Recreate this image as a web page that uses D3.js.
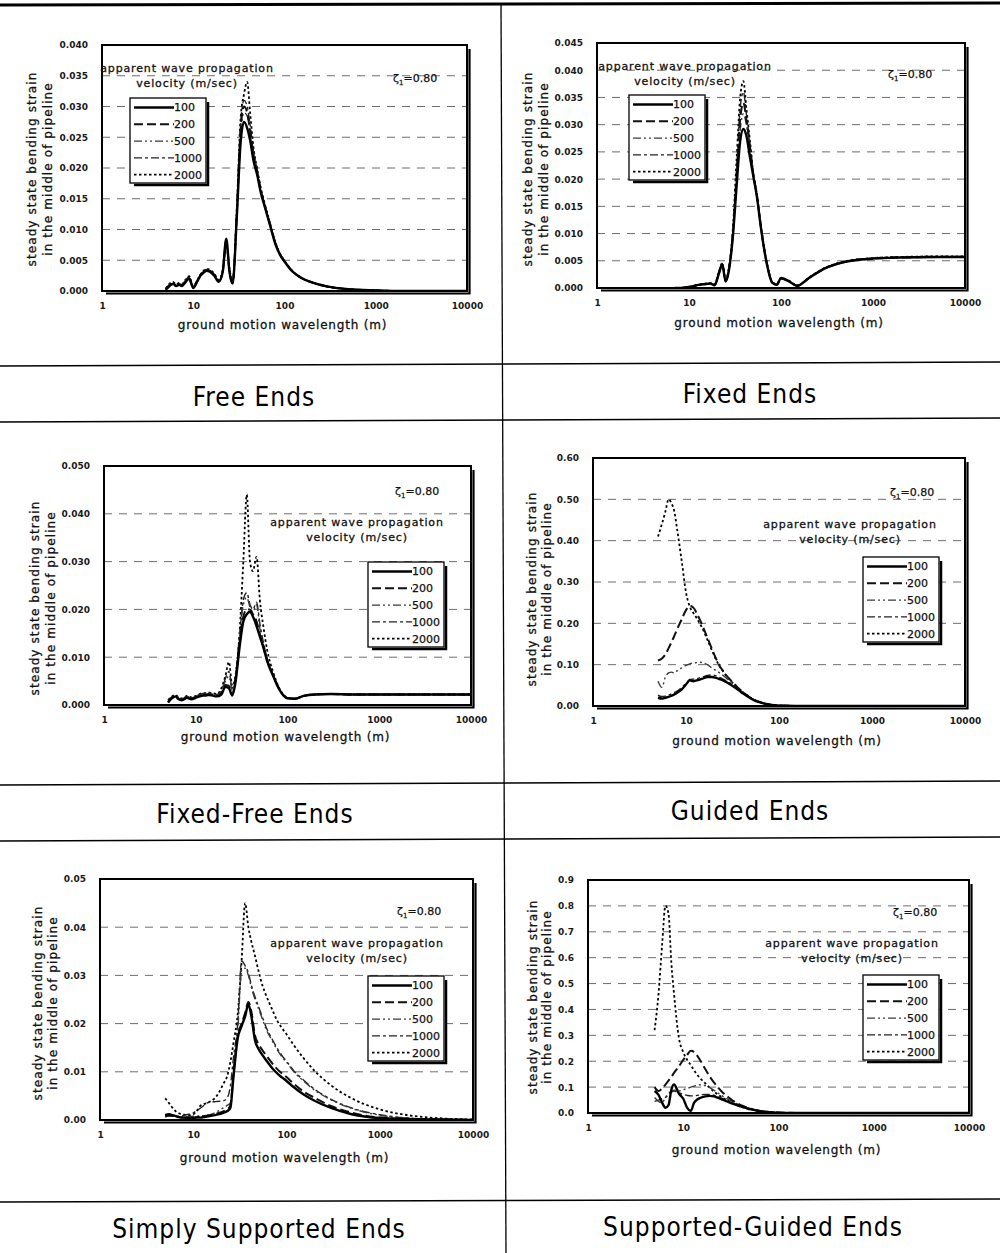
<!DOCTYPE html>
<html>
<head>
<meta charset="utf-8">
<script src="https://cdn.jsdelivr.net/npm/d3@7"></script>
<style>
  body { margin: 0; background: #fff; }
  svg { display: block; }
</style>
</head>
<body>
<svg id="fig" width="1000" height="1253"></svg>
<script>
// ---------- data ----------
// ground motion wavelengths (m) shared by every curve
const wavelengths = [5, 5.5, 6, 6.5, 7, 7.5, 8, 9, 10, 11, 12, 13, 14, 15, 17, 19, 21, 23, 25, 27,
  30, 33, 36, 39, 42, 46, 50, 55, 60, 70, 80, 90, 100, 120, 150, 200, 300, 500, 1000, 2000, 5000, 10000];

// apparent wave propagation velocities (m/sec)
const velocities = ["100", "200", "500", "1000", "2000"];
const xTickValues = [1, 10, 100, 1000, 10000];
const dampingLabel = "=0.80";

// steady state bending strain, free ends
const free100 = [0.0002, 0.0008, 0.0012, 0.0008, 0.0010, 0.0008, 0.0012, 0.0020, 0.0005, 0.0015, 0.0025, 0.0030, 0.0033, 0.0032, 0.0025, 0.0015, 0.0030, 0.0085, 0.0030, 0.0012, 0.0120, 0.0240, 0.0275, 0.0265, 0.0245, 0.0210, 0.0190, 0.0160, 0.0140, 0.0105, 0.0075, 0.0058, 0.0048, 0.0033, 0.0022, 0.0014, 0.0007, 0.0003, 0.0001, 0, 0, 0];
const free200 = [0.0003, 0.0009, 0.0011, 0.0009, 0.0011, 0.0009, 0.0013, 0.0021, 0.0006, 0.0016, 0.0026, 0.0031, 0.0034, 0.0033, 0.0026, 0.0016, 0.0031, 0.0082, 0.0031, 0.0013, 0.0125, 0.0260, 0.0300, 0.0290, 0.0260, 0.0220, 0.0195, 0.0163, 0.0142, 0.0106, 0.0076, 0.0059, 0.0048, 0.0033, 0.0022, 0.0014, 0.0007, 0.0003, 0.0001, 0, 0, 0];
const free500 = [0.0002, 0.0010, 0.0013, 0.0009, 0.0010, 0.0009, 0.0014, 0.0022, 0.0006, 0.0014, 0.0024, 0.0030, 0.0034, 0.0033, 0.0026, 0.0016, 0.0032, 0.0080, 0.0032, 0.0013, 0.0122, 0.0250, 0.0290, 0.0285, 0.0255, 0.0215, 0.0193, 0.0162, 0.0141, 0.0106, 0.0076, 0.0059, 0.0048, 0.0033, 0.0022, 0.0014, 0.0007, 0.0003, 0.0001, 0, 0, 0];
const free1000 = [0.0003, 0.0011, 0.0014, 0.0010, 0.0012, 0.0010, 0.0015, 0.0023, 0.0007, 0.0016, 0.0026, 0.0032, 0.0035, 0.0034, 0.0027, 0.0017, 0.0033, 0.0078, 0.0033, 0.0014, 0.0128, 0.0270, 0.0310, 0.0300, 0.0270, 0.0225, 0.0198, 0.0165, 0.0143, 0.0107, 0.0077, 0.0059, 0.0049, 0.0033, 0.0022, 0.0014, 0.0007, 0.0003, 0.0001, 0, 0, 0];
const free2000 = [0.0004, 0.0012, 0.0015, 0.0011, 0.0013, 0.0011, 0.0016, 0.0024, 0.0008, 0.0017, 0.0027, 0.0033, 0.0036, 0.0035, 0.0028, 0.0018, 0.0034, 0.0075, 0.0035, 0.0016, 0.0135, 0.0280, 0.0320, 0.0340, 0.0290, 0.0230, 0.0200, 0.0168, 0.0145, 0.0108, 0.0078, 0.0060, 0.0049, 0.0034, 0.0022, 0.0014, 0.0007, 0.0003, 0.0001, 0, 0, 0];

// fixed ends
const fixed100 = [null, null, null, null, 0, 0, 0, 0.0001, 0.0002, 0.0003, 0.0005, 0.0006, 0.0007, 0.0007, 0.0008, 0.0005, 0.0025, 0.0043, 0.0012, 0.0030, 0.0095, 0.0190, 0.0270, 0.0292, 0.0280, 0.0240, 0.0205, 0.0165, 0.0115, 0.0045, 0.0010, 0.0006, 0.0018, 0.0013, 0.0004, 0.0018, 0.0036, 0.0048, 0.0054, 0.0056, 0.0057, 0.0057];
const fixed200 = [null, null, null, null, 0, 0, 0, 0.0001, 0.0002, 0.0003, 0.0005, 0.0006, 0.0007, 0.0008, 0.0008, 0.0006, 0.0026, 0.0044, 0.0013, 0.0032, 0.0100, 0.0210, 0.0310, 0.0340, 0.0310, 0.0260, 0.0210, 0.0168, 0.0117, 0.0046, 0.0011, 0.0006, 0.0018, 0.0013, 0.0004, 0.0018, 0.0036, 0.0048, 0.0054, 0.0056, 0.0057, 0.0057];
const fixed500 = [null, null, null, null, 0, 0, 0, 0.0001, 0.0002, 0.0003, 0.0005, 0.0006, 0.0007, 0.0008, 0.0008, 0.0006, 0.0026, 0.0044, 0.0013, 0.0031, 0.0098, 0.0200, 0.0290, 0.0320, 0.0300, 0.0250, 0.0208, 0.0166, 0.0116, 0.0046, 0.0011, 0.0006, 0.0018, 0.0013, 0.0004, 0.0018, 0.0036, 0.0048, 0.0054, 0.0056, 0.0057, 0.0057];
const fixed1000 = [null, null, null, null, 0, 0, 0, 0.0001, 0.0002, 0.0003, 0.0005, 0.0006, 0.0007, 0.0008, 0.0009, 0.0006, 0.0027, 0.0045, 0.0014, 0.0033, 0.0105, 0.0220, 0.0330, 0.0360, 0.0320, 0.0260, 0.0210, 0.0168, 0.0117, 0.0047, 0.0011, 0.0006, 0.0019, 0.0013, 0.0004, 0.0019, 0.0037, 0.0049, 0.0055, 0.0057, 0.0058, 0.0058];
const fixed2000 = [null, null, null, null, 0, 0, 0, 0.0001, 0.0002, 0.0003, 0.0005, 0.0006, 0.0007, 0.0008, 0.0009, 0.0007, 0.0028, 0.0046, 0.0015, 0.0035, 0.0110, 0.0240, 0.0350, 0.0380, 0.0330, 0.0270, 0.0210, 0.0170, 0.0118, 0.0047, 0.0012, 0.0007, 0.0019, 0.0014, 0.0005, 0.0019, 0.0037, 0.0049, 0.0055, 0.0057, 0.0058, 0.0058];

// fixed-free ends
const fixedFree100 = [0.0005, 0.0015, 0.0018, 0.0012, 0.0010, 0.0012, 0.0015, 0.0012, 0.0015, 0.0018, 0.0020, 0.0020, 0.0021, 0.0020, 0.0018, 0.0022, 0.0038, 0.0035, 0.0020, 0.0045, 0.0120, 0.0175, 0.0190, 0.0195, 0.0185, 0.0165, 0.0143, 0.0118, 0.0092, 0.0060, 0.0035, 0.0020, 0.0014, 0.0013, 0.0019, 0.0022, 0.0023, 0.0022, 0.0022, 0.0022, 0.0022, 0.0022];
const fixedFree200 = [0.0006, 0.0014, 0.0017, 0.0013, 0.0011, 0.0013, 0.0016, 0.0013, 0.0016, 0.0019, 0.0021, 0.0021, 0.0022, 0.0021, 0.0019, 0.0024, 0.0042, 0.0040, 0.0022, 0.0050, 0.0130, 0.0185, 0.0200, 0.0200, 0.0190, 0.0175, 0.0148, 0.0120, 0.0094, 0.0061, 0.0036, 0.0021, 0.0014, 0.0013, 0.0019, 0.0022, 0.0023, 0.0022, 0.0022, 0.0022, 0.0022, 0.0022];
const fixedFree500 = [0.0007, 0.0016, 0.0019, 0.0014, 0.0012, 0.0014, 0.0017, 0.0014, 0.0017, 0.0021, 0.0023, 0.0023, 0.0024, 0.0023, 0.0021, 0.0028, 0.0050, 0.0060, 0.0030, 0.0055, 0.0140, 0.0210, 0.0225, 0.0205, 0.0195, 0.0210, 0.0160, 0.0125, 0.0096, 0.0062, 0.0036, 0.0021, 0.0014, 0.0013, 0.0019, 0.0022, 0.0023, 0.0022, 0.0022, 0.0022, 0.0022, 0.0022];
const fixedFree1000 = [0.0008, 0.0017, 0.0020, 0.0015, 0.0013, 0.0015, 0.0018, 0.0015, 0.0018, 0.0022, 0.0024, 0.0024, 0.0025, 0.0024, 0.0022, 0.0030, 0.0055, 0.0070, 0.0035, 0.0058, 0.0145, 0.0220, 0.0235, 0.0210, 0.0200, 0.0215, 0.0170, 0.0128, 0.0097, 0.0062, 0.0036, 0.0021, 0.0014, 0.0013, 0.0019, 0.0022, 0.0023, 0.0022, 0.0022, 0.0022, 0.0022, 0.0022];
const fixedFree2000 = [0.0010, 0.0018, 0.0021, 0.0016, 0.0014, 0.0016, 0.0019, 0.0016, 0.0019, 0.0023, 0.0025, 0.0025, 0.0026, 0.0025, 0.0023, 0.0035, 0.0060, 0.0090, 0.0040, 0.0060, 0.0150, 0.0300, 0.0440, 0.0300, 0.0280, 0.0310, 0.0220, 0.0160, 0.0115, 0.0068, 0.0038, 0.0022, 0.0015, 0.0013, 0.0019, 0.0022, 0.0023, 0.0022, 0.0022, 0.0022, 0.0022, 0.0022];

// guided ends
const guided100 = [0.020, 0.018, 0.020, 0.022, 0.025, 0.028, 0.032, 0.040, 0.052, 0.062, 0.060, 0.062, 0.064, 0.066, 0.070, 0.070, 0.068, 0.065, 0.062, 0.058, 0.052, 0.046, 0.040, 0.034, 0.029, 0.023, 0.018, 0.013, 0.010, 0.0055, 0.003, 0.0018, 0.001, 0.0005, 0.0002, 0, 0, 0, 0, 0, 0, 0];
const guided200 = [0.110, 0.115, 0.125, 0.140, 0.155, 0.170, 0.185, 0.210, 0.232, 0.242, 0.238, 0.225, 0.210, 0.195, 0.165, 0.138, 0.115, 0.097, 0.085, 0.075, 0.063, 0.053, 0.045, 0.038, 0.032, 0.025, 0.019, 0.014, 0.011, 0.006, 0.0033, 0.002, 0.0011, 0.0005, 0.0002, 0, 0, 0, 0, 0, 0, 0];
const guided500 = [0.060, 0.045, 0.070, 0.080, 0.082, 0.080, 0.085, 0.092, 0.098, 0.102, 0.104, 0.105, 0.106, 0.105, 0.100, 0.092, 0.086, 0.080, 0.074, 0.068, 0.059, 0.050, 0.043, 0.037, 0.031, 0.025, 0.019, 0.014, 0.011, 0.006, 0.0033, 0.002, 0.0011, 0.0005, 0.0002, 0, 0, 0, 0, 0, 0, 0];
const guided1000 = [0.026, 0.023, 0.024, 0.026, 0.030, 0.033, 0.036, 0.045, 0.055, 0.064, 0.065, 0.066, 0.068, 0.070, 0.074, 0.075, 0.073, 0.069, 0.065, 0.061, 0.055, 0.048, 0.042, 0.036, 0.030, 0.024, 0.019, 0.014, 0.0105, 0.006, 0.0032, 0.0019, 0.001, 0.0005, 0.0002, 0, 0, 0, 0, 0, 0, 0];
const guided2000 = [0.410, 0.440, 0.470, 0.500, 0.490, 0.470, 0.430, 0.350, 0.275, 0.240, 0.225, 0.213, 0.200, 0.188, 0.160, 0.135, 0.113, 0.096, 0.084, 0.074, 0.062, 0.052, 0.044, 0.037, 0.031, 0.025, 0.019, 0.014, 0.011, 0.006, 0.0033, 0.002, 0.0011, 0.0005, 0.0002, 0, 0, 0, 0, 0, 0, 0];

// simply supported ends
const simply100 = [0.0010, 0.0012, 0.0010, 0.0008, 0.0006, 0.0005, 0.0005, 0.0004, 0.0004, 0.0005, 0.0005, 0.0006, 0.0007, 0.0008, 0.0010, 0.0012, 0.0015, 0.0018, 0.0025, 0.0090, 0.0170, 0.0195, 0.0215, 0.0240, 0.0215, 0.0165, 0.0148, 0.0135, 0.0125, 0.0108, 0.0096, 0.0088, 0.0081, 0.0068, 0.0054, 0.0040, 0.0025, 0.0012, 0.0004, 0.0002, 0.0001, 0];
const simply200 = [0.0008, 0.0010, 0.0009, 0.0007, 0.0006, 0.0005, 0.0005, 0.0005, 0.0005, 0.0006, 0.0007, 0.0008, 0.0009, 0.0010, 0.0012, 0.0015, 0.0018, 0.0022, 0.0030, 0.0095, 0.0175, 0.0200, 0.0222, 0.0245, 0.0225, 0.0175, 0.0158, 0.0145, 0.0135, 0.0118, 0.0105, 0.0096, 0.0089, 0.0075, 0.0060, 0.0046, 0.0029, 0.0015, 0.0005, 0.0002, 0.0001, 0];
const simply500 = [0.0008, 0.0009, 0.0008, 0.0008, 0.0007, 0.0007, 0.0007, 0.0007, 0.0008, 0.0008, 0.0009, 0.0009, 0.0010, 0.0011, 0.0015, 0.0020, 0.0025, 0.0030, 0.0035, 0.0100, 0.0185, 0.0310, 0.0315, 0.0300, 0.0275, 0.0250, 0.0232, 0.0210, 0.0190, 0.0165, 0.0145, 0.0130, 0.0120, 0.0100, 0.0082, 0.0062, 0.0042, 0.0024, 0.0010, 0.0004, 0.0001, 0];
const simply1000 = [0.0006, 0.0008, 0.0008, 0.0008, 0.0008, 0.0009, 0.0010, 0.0012, 0.0015, 0.0020, 0.0025, 0.0030, 0.0035, 0.0037, 0.0038, 0.0039, 0.0040, 0.0045, 0.0070, 0.0130, 0.0200, 0.0330, 0.0320, 0.0305, 0.0280, 0.0255, 0.0236, 0.0214, 0.0194, 0.0168, 0.0148, 0.0133, 0.0122, 0.0102, 0.0084, 0.0064, 0.0043, 0.0025, 0.0011, 0.0004, 0.0001, 0];
const simply2000 = [0.0045, 0.0035, 0.0025, 0.0018, 0.0014, 0.0012, 0.0011, 0.0010, 0.0012, 0.0020, 0.0030, 0.0033, 0.0035, 0.0038, 0.0045, 0.0058, 0.0075, 0.0090, 0.0120, 0.0160, 0.0220, 0.0330, 0.0450, 0.0400, 0.0370, 0.0340, 0.0310, 0.0280, 0.0260, 0.0230, 0.0205, 0.0190, 0.0178, 0.0155, 0.0130, 0.0102, 0.0072, 0.0045, 0.0022, 0.0010, 0.0003, 0.0001];

// supported-guided ends
const supGuided100 = [0.085, 0.070, 0.040, 0.020, 0.030, 0.090, 0.110, 0.075, 0.055, 0.020, 0.008, 0.040, 0.052, 0.058, 0.064, 0.066, 0.064, 0.059, 0.054, 0.049, 0.042, 0.036, 0.031, 0.027, 0.023, 0.019, 0.015, 0.012, 0.009, 0.005, 0.003, 0.002, 0.001, 0.0005, 0.0002, 0, 0, 0, 0, 0, 0, 0];
const supGuided200 = [0.100, 0.085, 0.095, 0.110, 0.125, 0.140, 0.155, 0.180, 0.205, 0.225, 0.240, 0.235, 0.222, 0.205, 0.170, 0.140, 0.118, 0.100, 0.085, 0.073, 0.060, 0.048, 0.040, 0.033, 0.028, 0.022, 0.018, 0.013, 0.010, 0.006, 0.004, 0.002, 0.0015, 0.0008, 0.0003, 0, 0, 0, 0, 0, 0, 0];
const supGuided500 = [0.060, 0.045, 0.040, 0.060, 0.075, 0.085, 0.088, 0.085, 0.090, 0.095, 0.100, 0.104, 0.107, 0.109, 0.106, 0.098, 0.088, 0.078, 0.069, 0.061, 0.052, 0.044, 0.037, 0.031, 0.026, 0.021, 0.017, 0.013, 0.0095, 0.0055, 0.0035, 0.002, 0.0012, 0.0006, 0.0002, 0, 0, 0, 0, 0, 0, 0];
const supGuided1000 = [0.045, 0.050, 0.055, 0.060, 0.070, 0.080, 0.085, 0.078, 0.072, 0.068, 0.066, 0.066, 0.068, 0.070, 0.072, 0.072, 0.069, 0.064, 0.058, 0.052, 0.045, 0.038, 0.033, 0.028, 0.024, 0.020, 0.016, 0.012, 0.009, 0.005, 0.003, 0.002, 0.001, 0.0005, 0.0002, 0, 0, 0, 0, 0, 0, 0];
const supGuided2000 = [0.320, 0.460, 0.650, 0.800, 0.770, 0.580, 0.460, 0.290, 0.235, 0.205, 0.185, 0.165, 0.148, 0.135, 0.115, 0.097, 0.083, 0.072, 0.063, 0.055, 0.046, 0.038, 0.032, 0.027, 0.023, 0.019, 0.015, 0.011, 0.009, 0.005, 0.003, 0.002, 0.001, 0.0005, 0.0002, 0, 0, 0, 0, 0, 0, 0];

// y-axis tick values of each chart
const yTicksFree = [0, 0.005, 0.010, 0.015, 0.020, 0.025, 0.030, 0.035, 0.040];
const yTicksFixed = [0, 0.005, 0.010, 0.015, 0.020, 0.025, 0.030, 0.035, 0.040, 0.045];
const yTicksFixedFree = [0, 0.010, 0.020, 0.030, 0.040, 0.050];
const yTicksGuided = [0, 0.10, 0.20, 0.30, 0.40, 0.50, 0.60];
const yTicksSimply = [0, 0.01, 0.02, 0.03, 0.04, 0.05];
const yTicksSupGuided = [0, 0.1, 0.2, 0.3, 0.4, 0.5, 0.6, 0.7, 0.8, 0.9];

const panelTitles = ["Free Ends", "Fixed Ends", "Fixed-Free Ends", "Guided Ends", "Simply Supported Ends", "Supported-Guided Ends"];

// ---------- layout ----------
const panels = [
  { title: panelTitles[0], series: [free100, free200, free500, free1000, free2000], ticks: yTicksFree, digits: 3,
    l: 102, r: 467, t: 45, b: 291, yTitle: [32, 48, 169], xTitleY: 329,
    legend: [130, 98], note: [187, 72], zeta: [393, 82], titlePos: [254, 406] },
  { title: panelTitles[1], series: [fixed100, fixed200, fixed500, fixed1000, fixed2000], ticks: yTicksFixed, digits: 3,
    l: 597, r: 965, t: 43, b: 288, yTitle: [528, 544, 169], xTitleY: 327,
    legend: [629, 95], note: [685, 70], zeta: [888, 78], titlePos: [750, 403] },
  { title: panelTitles[2], series: [fixedFree100, fixedFree200, fixedFree500, fixedFree1000, fixedFree2000], ticks: yTicksFixedFree, digits: 3,
    l: 104, r: 471, t: 466, b: 705, yTitle: [35, 51, 598], xTitleY: 741,
    legend: [368, 562], note: [357, 526], zeta: [395, 495], titlePos: [255, 823] },
  { title: panelTitles[3], series: [guided100, guided200, guided500, guided1000, guided2000], ticks: yTicksGuided, digits: 2,
    l: 593, r: 965, t: 458, b: 706, yTitle: [532, 547, 589], xTitleY: 745,
    legend: [863, 557], note: [850, 528], zeta: [890, 496], titlePos: [750, 820] },
  { title: panelTitles[4], series: [simply100, simply200, simply500, simply1000, simply2000], ticks: yTicksSimply, digits: 2,
    l: 100, r: 473, t: 879, b: 1120, yTitle: [38, 53, 1003], xTitleY: 1162,
    legend: [368, 976], note: [357, 947], zeta: [397, 915], titlePos: [259, 1238] },
  { title: panelTitles[5], series: [supGuided100, supGuided200, supGuided500, supGuided1000, supGuided2000], ticks: yTicksSupGuided, digits: 1,
    l: 588, r: 969, t: 880, b: 1113, yTitle: [533, 547, 997], xTitleY: 1154,
    legend: [863, 975], note: [852, 947], zeta: [893, 916], titlePos: [753, 1236] }
];

// line style for each velocity
const lineStyles = [
  { width: 2.4, dash: null, color: "#000" },
  { width: 2.0, dash: "9,4", color: "#111" },
  { width: 1.4, dash: "8,3,2,3,2,3", color: "#3a3a3a" },
  { width: 1.4, dash: "8,3,3,3", color: "#222" },
  { width: 1.8, dash: "2.5,2.5", color: "#000" }
];

const svg = d3.select("#fig");
const FONT = "'DejaVu Sans', Verdana, sans-serif";

// ---------- page rules ----------
const rules = svg.append("g").attr("stroke", "#000").attr("fill", "none");
rules.append("line").attr("x1", 0).attr("y1", 5).attr("x2", 1000).attr("y2", 3).attr("stroke-width", 3);
rules.append("line").attr("x1", 501).attr("y1", 4).attr("x2", 506).attr("y2", 1253).attr("stroke-width", 1.3);
[[366, 362], [422, 418], [785, 781], [841, 837], [1202, 1199]].forEach(([a, b]) => {
  rules.append("line").attr("x1", 0).attr("y1", a).attr("x2", 1000).attr("y2", b).attr("stroke-width", 1.6);
});

// ---------- charts ----------
panels.forEach((p, pi) => {
  const g = svg.append("g");
  const x = d3.scaleLog().domain([1, 10000]).range([p.l, p.r]);
  const y = d3.scaleLinear().domain([0, d3.max(p.ticks)]).range([p.b, p.t]);

  // horizontal gridlines
  g.append("g").selectAll("line")
    .data(p.ticks.filter(v => v > 0 && y(v) > p.t + 2))
    .join("line")
    .attr("x1", p.l).attr("x2", p.r)
    .attr("y1", d => y(d)).attr("y2", d => y(d))
    .attr("stroke", "#6e6e6e").attr("stroke-width", 1)
    .attr("stroke-dasharray", "8,7");

  // curves
  const clipId = "clip" + pi;
  g.append("clipPath").attr("id", clipId)
    .append("rect").attr("x", p.l).attr("y", p.t).attr("width", p.r - p.l).attr("height", p.b - p.t);

  const line = d3.line()
    .defined(d => d[1] != null)
    .x(d => x(d[0]))
    .y(d => y(d[1]))
    .curve(d3.curveMonotoneX);

  g.append("g").attr("clip-path", `url(#${clipId})`)
    .selectAll("path")
    .data(p.series.map((vals, i) => ({ i, pts: wavelengths.map((w, k) => [w, vals[k]]) })).reverse())
    .join("path")
    .attr("d", d => line(d.pts))
    .attr("fill", "none")
    .attr("stroke", d => lineStyles[d.i].color)
    .attr("stroke-width", d => lineStyles[d.i].width)
    .attr("stroke-dasharray", d => lineStyles[d.i].dash)
    .attr("stroke-linejoin", "round");

  // plot frame with drop shadow
  g.append("path")
    .attr("d", `M${p.l + 4},${p.b + 2.5}H${p.r + 2.5}V${p.t + 4}`)
    .attr("fill", "none").attr("stroke", "#000").attr("stroke-width", 2.2);
  g.append("rect")
    .attr("x", p.l).attr("y", p.t).attr("width", p.r - p.l).attr("height", p.b - p.t)
    .attr("fill", "none").attr("stroke", "#000").attr("stroke-width", 2);

  // axes
  const yAxis = d3.axisLeft(y).tickValues(p.ticks).tickFormat(d3.format(`.${p.digits}f`)).tickSize(0).tickPadding(14);
  const xAxis = d3.axisBottom(x).tickValues(xTickValues).tickFormat(d3.format("d")).tickSize(0).tickPadding(12);
  const ya = g.append("g").attr("transform", `translate(${p.l},0)`).call(yAxis);
  const xa = g.append("g").attr("transform", `translate(0,${p.b})`).call(xAxis);
  [ya, xa].forEach(a => {
    a.select(".domain").remove();
    a.selectAll("text").attr("font-family", FONT).attr("font-size", 9).attr("font-weight", "bold").attr("fill", "#1a1a1a");
  });

  // axis titles
  g.append("text")
    .attr("x", (p.l + p.r) / 2 - 2).attr("y", p.xTitleY)
    .attr("text-anchor", "middle")
    .attr("font-family", FONT).attr("font-size", 12).attr("letter-spacing", 0.8)
    .attr("fill", "#111").attr("stroke", "#111").attr("stroke-width", 0.3)
    .text("ground motion wavelength (m)");
  ["steady state bending strain", "in the middle of pipeline"].forEach((s, k) => {
    g.append("text")
      .attr("transform", `translate(${p.yTitle[k] + 4},${p.yTitle[2]}) rotate(-90)`)
      .attr("text-anchor", "middle")
      .attr("font-family", FONT).attr("font-size", 12).attr("letter-spacing", 1.1)
      .attr("fill", "#111").attr("stroke", "#111").attr("stroke-width", 0.3)
      .text(s);
  });

  // annotation
  ["apparent wave propagation", "velocity (m/sec)"].forEach((s, k) => {
    g.append("text")
      .attr("x", p.note[0]).attr("y", p.note[1] + k * 15)
      .attr("text-anchor", "middle")
      .attr("font-family", FONT).attr("font-size", 11).attr("letter-spacing", 0.85)
      .attr("fill", "#111").attr("stroke", "#111").attr("stroke-width", 0.3)
      .text(s);
  });
  const z = g.append("text")
    .attr("x", p.zeta[0]).attr("y", p.zeta[1])
    .attr("font-family", FONT).attr("font-size", 11)
    .attr("fill", "#111").attr("stroke", "#111").attr("stroke-width", 0.25);
  z.append("tspan").text("ζ");
  z.append("tspan").attr("font-size", 7).attr("dy", 3).text("1");
  z.append("tspan").attr("dy", -3).text(dampingLabel);

  // legend
  const [lx, ly] = p.legend;
  const lw = 76, lh = 85;
  const lg = g.append("g");
  lg.append("path")
    .attr("d", `M${lx + 4},${ly + lh + 2}H${lx + lw + 2}V${ly + 4}`)
    .attr("fill", "none").attr("stroke", "#000").attr("stroke-width", 2.5);
  lg.append("rect").attr("x", lx).attr("y", ly).attr("width", lw).attr("height", lh)
    .attr("fill", "#fff").attr("stroke", "#000").attr("stroke-width", 1.3);
  velocities.forEach((v, i) => {
    const ry = ly + 9.5 + i * 16.8;
    const st = lineStyles[i];
    lg.append("line")
      .attr("x1", lx + 4).attr("x2", lx + 44).attr("y1", ry).attr("y2", ry)
      .attr("stroke", st.color).attr("stroke-width", st.width).attr("stroke-dasharray", st.dash);
    lg.append("text")
      .attr("x", lx + 44).attr("y", ry).attr("dy", "0.36em")
      .attr("font-family", FONT).attr("font-size", 11)
      .attr("fill", "#111").attr("stroke", "#111").attr("stroke-width", 0.25)
      .text(v);
  });

  // case title below the chart
  svg.append("text")
    .attr("x", p.titlePos[0]).attr("y", p.titlePos[1])
    .attr("text-anchor", "middle")
    .attr("font-family", "'DejaVu Sans Condensed', 'DejaVu Sans', sans-serif")
    .style("font-stretch", "condensed")
    .attr("font-size", 26).attr("letter-spacing", 1).attr("fill", "#000")
    .text(p.title);
});
</script>
</body>
</html>
